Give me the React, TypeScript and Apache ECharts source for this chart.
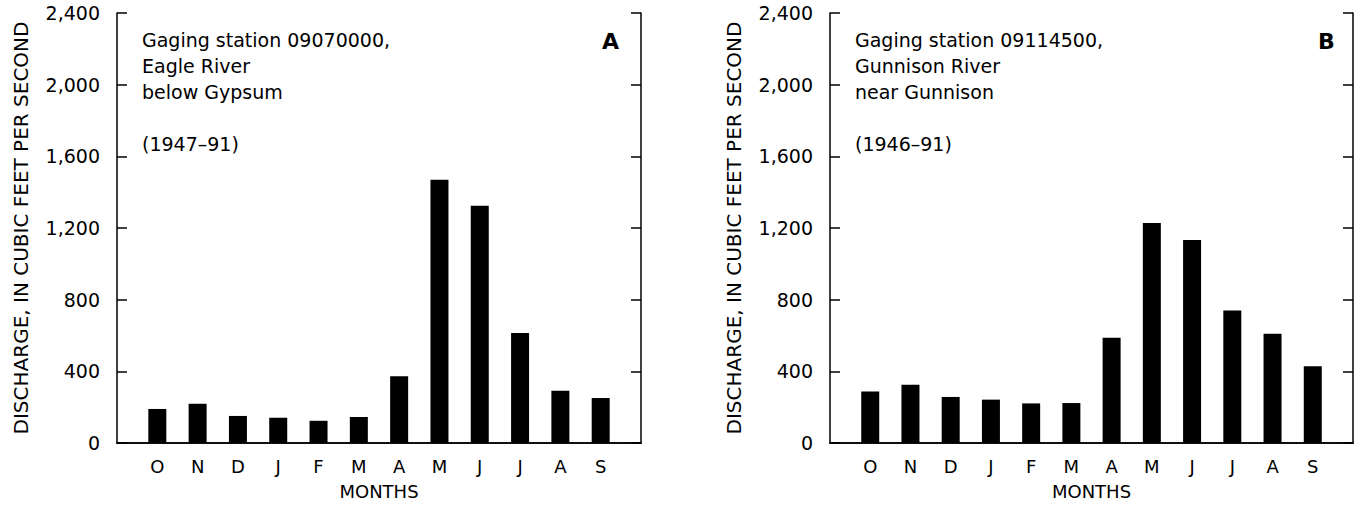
import React, { useEffect, useRef } from "react";
import * as echarts from "echarts";

const months = ["O", "N", "D", "J", "F", "M", "A", "M", "J", "J", "A", "S"];
const eagleRiver = [190, 219, 151, 141, 124, 145, 372, 1469, 1324, 614, 292, 251];
const gunnisonRiver = [288, 325, 257, 242, 221, 223, 588, 1228, 1133, 740, 610, 428];
const yTicks = [0, 400, 800, 1200, 1600, 2000, 2400];
const textA = ["Gaging station 09070000,", "Eagle River", "below Gypsum", "", "(1947\u201391)"];
const textB = ["Gaging station 09114500,", "Gunnison River", "near Gunnison", "", "(1946\u201391)"];

const FONT = "DejaVu Sans";
const cats = ["", ...months, ""];

export default function App() {
  const ref = useRef<HTMLDivElement>(null);
  useEffect(() => {
    if (!ref.current) return;
    const chart = echarts.init(ref.current, null, { renderer: "svg" });
    const grids = [
      { left: 117, top: 13, width: 524, height: 430 },
      { left: 830, top: 13, width: 523, height: 430 },
    ];
    const axisLine = { show: true, lineStyle: { color: "#000", width: 1.5 } };
    const xAxes: any[] = [];
    const yAxes: any[] = [];
    grids.forEach((g, i) => {
      xAxes.push({
        type: "category",
        gridIndex: i,
        data: cats,
        boundaryGap: false,
        axisLine,
        axisTick: { show: false },
        axisLabel: { color: "#000", fontFamily: FONT, fontSize: 18, margin: 14, interval: 0 },
        name: "MONTHS",
        nameLocation: "middle",
        nameGap: 39,
        nameTextStyle: { color: "#000", fontFamily: FONT, fontSize: 18 },
        splitLine: { show: false },
      });
      xAxes.push({
        type: "category",
        gridIndex: i,
        position: "top",
        data: cats,
        boundaryGap: false,
        axisLine,
        axisTick: { show: false },
        axisLabel: { show: false },
        splitLine: { show: false },
      });
      yAxes.push({
        type: "value",
        gridIndex: i,
        min: yTicks[0],
        max: yTicks[yTicks.length - 1],
        interval: yTicks[1] - yTicks[0],
        axisLine,
        axisTick: { show: true, inside: true, length: 10, lineStyle: { color: "#000", width: 1.5 } },
        axisLabel: {
          color: "#000",
          fontFamily: FONT,
          fontSize: 19,
          margin: 17,
          formatter: (v: number) => v.toLocaleString("en-US"),
        },
        splitLine: { show: false },
        name: "DISCHARGE, IN CUBIC FEET PER SECOND",
        nameLocation: "middle",
        nameGap: 86,
        nameTextStyle: { color: "#000", fontFamily: FONT, fontSize: 20 },
      });
      yAxes.push({
        type: "value",
        gridIndex: i,
        position: "right",
        min: yTicks[0],
        max: yTicks[yTicks.length - 1],
        interval: yTicks[1] - yTicks[0],
        axisLine,
        axisTick: { show: true, inside: true, length: 10, lineStyle: { color: "#000", width: 1.5 } },
        axisLabel: { show: false },
        splitLine: { show: false },
      });
    });
    const mkText = (lines: string[], x: number) => ({
      type: "text",
      left: x,
      top: 27,
      style: {
        text: lines.join("\n"),
        fill: "#000",
        font: `19px "${FONT}"`,
        lineHeight: 26,
      },
    });
    chart.setOption({
      animation: false,
      backgroundColor: "#fff",
      grid: grids,
      xAxis: xAxes,
      yAxis: yAxes,
      series: [
        {
          type: "bar",
          xAxisIndex: 0,
          yAxisIndex: 0,
          barWidth: 18,
          itemStyle: { color: "#000" },
          data: [null, ...eagleRiver, null],
        },
        {
          type: "bar",
          xAxisIndex: 2,
          yAxisIndex: 2,
          barWidth: 18,
          itemStyle: { color: "#000" },
          data: [null, ...gunnisonRiver, null],
        },
      ],
      graphic: [
        mkText(textA, 142),
        mkText(textB, 855),
        {
          type: "text",
          left: 602,
          top: 30,
          style: { text: "A", fill: "#000", font: `bold 22px "${FONT}"` },
        },
        {
          type: "text",
          left: 1318,
          top: 30,
          style: { text: "B", fill: "#000", font: `bold 22px "${FONT}"` },
        },
      ],
    });
    return () => chart.dispose();
  }, []);
  return (
    <div
      ref={ref}
      style={{ position: "fixed", left: 0, top: 0, width: 1363, height: 506, background: "#fff" }}
    />
  );
}
